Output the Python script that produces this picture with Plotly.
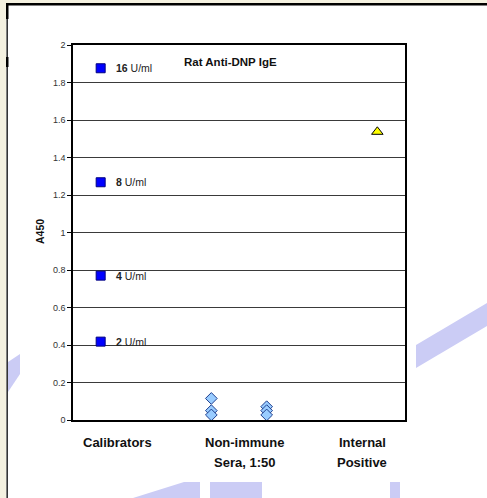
import plotly.graph_objects as go

# ---- data ----
categories = ["Calibrators", "Non-immune<br>Sera, 1:50", "Internal<br>Positive"]
category_pos = [0.8, 3.1, 5.23]

calib_x = [0.5, 0.5, 0.5, 0.5]
calib_y = [1.876, 1.268, 0.77, 0.418]
calib_conc = ["16", "8", "4", "2"]

sera_x = [2.5, 2.5, 2.5, 3.5, 3.5, 3.5]
sera_y = [0.115, 0.05, 0.027, 0.071, 0.05, 0.027]

pos_x = [5.5]
pos_y = [1.537]

title_text = "Rat Anti-DNP IgE"
y_title = "A450"

# ---- layout geometry ----
W, H = 487, 498
L, R, T, B = 73, 82, 45, 78
PW, PH = W - L - R, H - T - B


def px(x):
    return (x - L) / PW


def py(y):
    return (H - B - y) / PH


FONT = "Liberation Sans, Arial, sans-serif"

fig = go.Figure()

fig.add_trace(go.Scatter(
    x=calib_x, y=calib_y, mode="markers",
    marker=dict(symbol="square", size=9, color="#0000ff",
                line=dict(color="#000080", width=1)),
    showlegend=False, hoverinfo="y"))

fig.add_trace(go.Scatter(
    x=sera_x, y=sera_y, mode="markers",
    marker=dict(symbol="diamond", size=9, color="#99ccff",
                line=dict(color="#1f3f8f", width=1)),
    showlegend=False, hoverinfo="y"))

fig.add_trace(go.Scatter(
    x=pos_x, y=pos_y, mode="markers",
    marker=dict(symbol="triangle-up", size=10, color="#ffff00",
                line=dict(color="#000000", width=1)),
    showlegend=False, hoverinfo="y"))

annotations = []
for xv, yv, c in zip(calib_x, calib_y, calib_conc):
    annotations.append(dict(
        x=xv, y=yv, xref="x", yref="y", xanchor="left", yanchor="middle",
        xshift=13, showarrow=False,
        text=f"<b>{c}</b> U/ml", font=dict(family=FONT, size=10.5, color="#222")))

for cat, xc in zip(categories, category_pos):
    lines = cat.split("<br>")
    for i, ln in enumerate(lines):
        annotations.append(dict(
            x=xc, y=py(442 + 20 * i), xref="x", yref="paper",
            xanchor="center", yanchor="middle", showarrow=False,
            text=f"<b>{ln}</b>", font=dict(family=FONT, size=13, color="#111")))

annotations.append(dict(
    x=px(230), y=py(62), xref="paper", yref="paper", xanchor="center",
    yanchor="middle", showarrow=False, text=f"<b>{title_text}</b>",
    font=dict(family=FONT, size=11.5, color="#111")))

annotations.append(dict(
    x=px(40), y=py(232), xref="paper", yref="paper", xanchor="center",
    yanchor="middle", showarrow=False, textangle=-90, text=f"<b>{y_title}</b>",
    font=dict(family=FONT, size=10.5, color="#111")))

LAV = "#cbccf5"
BEIGE = "#f4f1e0"


def poly(points, color):
    path = "M " + " L ".join(f"{px(a):.5f},{py(b):.5f}" for a, b in points) + " Z"
    return dict(type="path", path=path, xref="paper", yref="paper",
                fillcolor=color, line=dict(width=0), layer="below")


shapes = [
    # watermark pieces outside the white chart block
    poly([(8, 362), (20, 354), (20, 374), (8, 392)], LAV),
    poly([(416, 345), (487, 303), (487, 326), (416, 368)], LAV),
    poly([(133, 498), (184, 482), (200, 482), (200, 498)], LAV),
    poly([(210, 482), (262, 482), (262, 498), (210, 498)], LAV),
    poly([(390, 482), (400, 482), (400, 498), (390, 498)], LAV),
    # beige surround
    poly([(0, 0), (6, 0), (6, 498), (0, 498)], BEIGE),
    poly([(0, 0), (487, 0), (487, 3), (0, 3)], BEIGE),
    # frame lines
    poly([(6, 3), (487, 3), (487, 5.5), (6, 5.5)], "#000000"),
    poly([(6, 3), (8.5, 3), (8.5, 19), (6, 19)], "#000000"),
    poly([(6.5, 19), (7.8, 19), (7.8, 498), (6.5, 498)], "#000000"),
    poly([(6, 57), (8.5, 57), (8.5, 67), (6, 67)], "#000000"),
]

fig.update_layout(
    width=W, height=H,
    margin=dict(l=L, r=R, t=T, b=B, pad=0),
    paper_bgcolor="#ffffff", plot_bgcolor="#ffffff",
    annotations=annotations, shapes=shapes,
    xaxis=dict(range=[0, 6], showgrid=False, zeroline=False,
               showticklabels=False, showline=True, linecolor="#000",
               linewidth=1.5, mirror=True, ticks="", fixedrange=True),
    yaxis=dict(range=[0, 2], dtick=0.2, tick0=0, showgrid=True,
               gridcolor="#3a3a3a", gridwidth=1, zeroline=False,
               showline=True, linecolor="#000", linewidth=1.5, mirror=True,
               ticks="outside", ticklen=4, tickcolor="#000",
               tickfont=dict(family=FONT, size=9, color="#333"),
               fixedrange=True),
    font=dict(family=FONT),
)

fig.write_html(
    "out.html",
    config={"displayModeBar": False},
    post_script="document.body.style.margin='0';document.body.style.padding='0';",
)
